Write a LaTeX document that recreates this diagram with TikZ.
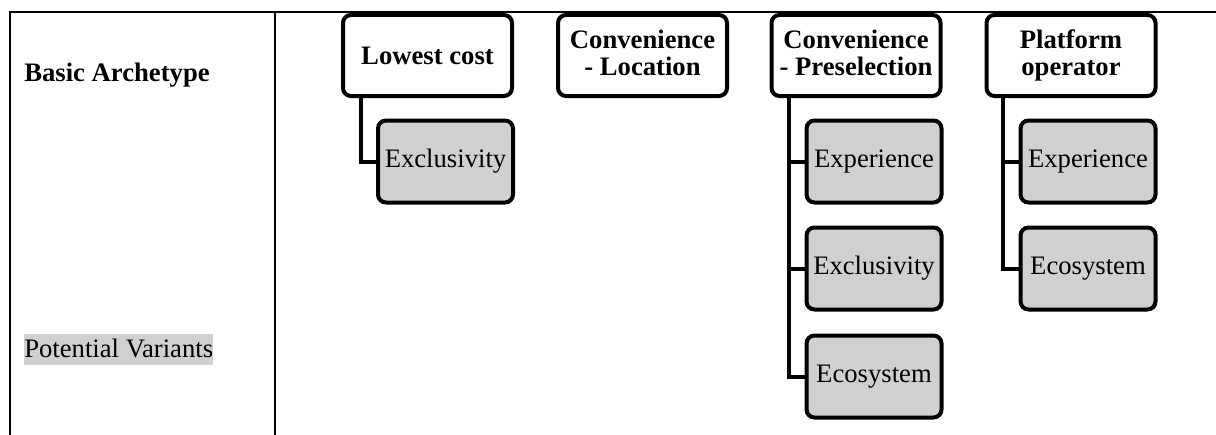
\documentclass[tikz,border=0pt]{standalone}
\usepackage{fontspec}
\setmainfont{Liberation Serif}
\usetikzlibrary{calc}
\definecolor{boxgray}{RGB}{208,208,208}
\tikzset{
  archbox/.style={draw=black, line width=3pt, rounded corners=6pt, fill=white,
    minimum width=126.75pt, minimum height=60.75pt, align=center, inner sep=1pt,
    font=\fontsize{20}{20.5}\selectfont\bfseries},
  varbox/.style={draw=black, line width=3pt, rounded corners=6pt, fill=boxgray,
    minimum width=101.25pt, minimum height=61.5pt, align=center, inner sep=1pt,
    font=\fontsize{20}{20.5}\selectfont},
  branch/.style={draw=black, line width=3pt},
  tableline/.style={draw=black, line width=1.8pt},
  rowlabel/.style={inner sep=0pt, anchor=base west, font=\fontsize{20}{20.5}\selectfont}
}
\newcommand{\dstrut}{\vphantom{p}}
\begin{document}
\begin{tikzpicture}[x=0.75pt, y=-0.75pt]
\useasboundingbox (0,0) rectangle (1216,435);
% table
\coordinate (tl) at (10,12);
\coordinate (tr) at (1216,12);
\coordinate (bl) at (10,435);
\coordinate (tm) at (275,12);
\coordinate (bm) at (275,435);
\draw[tableline] (tr) -- (tl) -- (bl);
\draw[tableline] (tm) -- (bm);
% row labels
\node[rowlabel, font=\fontsize{20}{20.5}\selectfont\bfseries] (basic) at (24,82) {Basic Archetype};
\node[rowlabel, fill=boxgray, text height=17.25pt, text depth=6pt] (pot) at (24,357) {Potential Variants};
% archetypes
\node[archbox] (lc) at (427.5,55.5) {Lowest cost};
\node[archbox] (cl) at (642.5,55.5) {Convenience\\- Location\dstrut};
\node[archbox] (cp) at (856,55.5) {Convenience\\- Preselection\dstrut};
\node[archbox] (po) at (1071,55.5) {Platform\\operator\dstrut};
% variants
\node[varbox] (lcex) at (445.5,161.5) {Exclusivity};
\node[varbox] (cpexp) at (874,161.5) {Experience};
\node[varbox] (cpexc) at (874,268.5) {Exclusivity};
\node[varbox] (cpeco) at (874,376.5) {Ecosystem};
\node[varbox] (poexp) at (1088,161.5) {Experience};
\node[varbox] (poeco) at (1088,268.5) {Ecosystem};
% connectors
\coordinate (lcb) at ($(lc.south west)+(20,0)$);
\coordinate (cpb) at ($(cp.south west)+(19,0)$);
\coordinate (pob) at ($(po.south west)+(18,0)$);
\draw[branch] (lcb) |- (lcex.west);
\draw[branch] (cpb) |- (cpeco.west);
\draw[branch] (cpb |- cpexp.west) -- (cpexp.west);
\draw[branch] (cpb |- cpexc.west) -- (cpexc.west);
\draw[branch] (pob) |- (poeco.west);
\draw[branch] (pob |- poexp.west) -- (poexp.west);
\end{tikzpicture}
\end{document}
